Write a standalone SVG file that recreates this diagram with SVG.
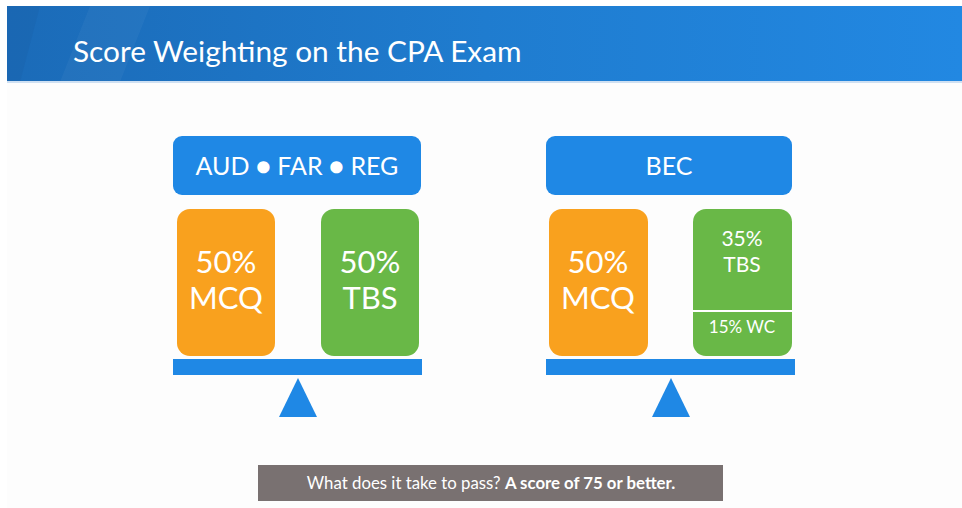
<svg xmlns="http://www.w3.org/2000/svg" width="962" height="508" viewBox="0 0 962 508">
<defs>
<linearGradient id="hdr" x1="0" y1="0" x2="1" y2="0">
<stop offset="0" stop-color="#1b6bb8"/>
<stop offset="0.5" stop-color="#1f7ccf"/>
<stop offset="1" stop-color="#2288e2"/>
</linearGradient>
<style>
.t{font-family:Lato,"Open Sans","Liberation Sans",sans-serif;fill:#ffffff;text-anchor:middle}
.blue{fill:#1f88e5}
.or{fill:#f9a11e}
.gr{fill:#69b847}
</style>
</defs>
<rect x="0" y="0" width="962" height="508" fill="#ffffff"/>
<rect x="7" y="82" width="955" height="426" fill="#fdfdfd"/>
<g id="header">
<rect x="7" y="6" width="955" height="76" fill="url(#hdr)"/>
<path d="M7 6 L40 6 L20 82 L7 82 Z" fill="#1a64ad" opacity="0.5"/>
<path d="M90 6 L150 6 L120 82 L60 82 Z" fill="#ffffff" opacity="0.04"/>
<rect x="7" y="81" width="955" height="2" fill="#cfe0f2"/>
<text x="73" y="62" font-family="Lato,'Open Sans','Liberation Sans',sans-serif" font-size="29.8" fill="#ffffff">Score Weighting on the CPA Exam</text>
</g>
<g id="left-title">
<rect class="blue" x="173" y="136" width="248" height="59" rx="9"/>
<text class="t" x="297" y="175" font-size="25">AUD ● FAR ● REG</text>
</g>
<g id="left-mcq">
<rect class="or" x="177" y="209" width="98" height="147" rx="13"/>
<text class="t" x="226" y="273" font-size="31">50%</text>
<text class="t" x="226" y="309" font-size="31">MCQ</text>
</g>
<g id="left-tbs">
<rect class="gr" x="321" y="209" width="98" height="147" rx="13"/>
<text class="t" x="370" y="273" font-size="31">50%</text>
<text class="t" x="370" y="309" font-size="31">TBS</text>
</g>
<g id="left-scale">
<rect class="blue" x="173" y="359" width="249" height="16"/>
<polygon class="blue" points="298,378 317,417 279,417"/>
</g>
<g id="right-title">
<rect class="blue" x="546" y="136" width="246" height="59" rx="9"/>
<text class="t" x="669" y="175" font-size="25">BEC</text>
</g>
<g id="right-mcq">
<rect class="or" x="549" y="209" width="99" height="147" rx="13"/>
<text class="t" x="598" y="273" font-size="31">50%</text>
<text class="t" x="598" y="309" font-size="31">MCQ</text>
</g>
<g id="right-tbs">
<rect class="gr" x="693" y="209" width="99" height="147" rx="13"/>
<rect x="693" y="310" width="99" height="2" fill="#ffffff"/>
<text class="t" x="742" y="246" font-size="21">35%</text>
<text class="t" x="742" y="272" font-size="21">TBS</text>
<text class="t" x="742" y="333" font-size="17">15% WC</text>
</g>
<g id="right-scale">
<rect class="blue" x="546" y="359" width="249" height="16"/>
<polygon class="blue" points="671,378 690,417 652,417"/>
</g>
<g id="footer">
<rect x="258" y="465" width="465" height="36" fill="#797171"/>
<text class="t" x="491" y="489" font-size="16.8">What does it take to pass? <tspan font-weight="bold">A score of 75 or better.</tspan></text>
</g>
<g id="connectors"></g>
</svg>
